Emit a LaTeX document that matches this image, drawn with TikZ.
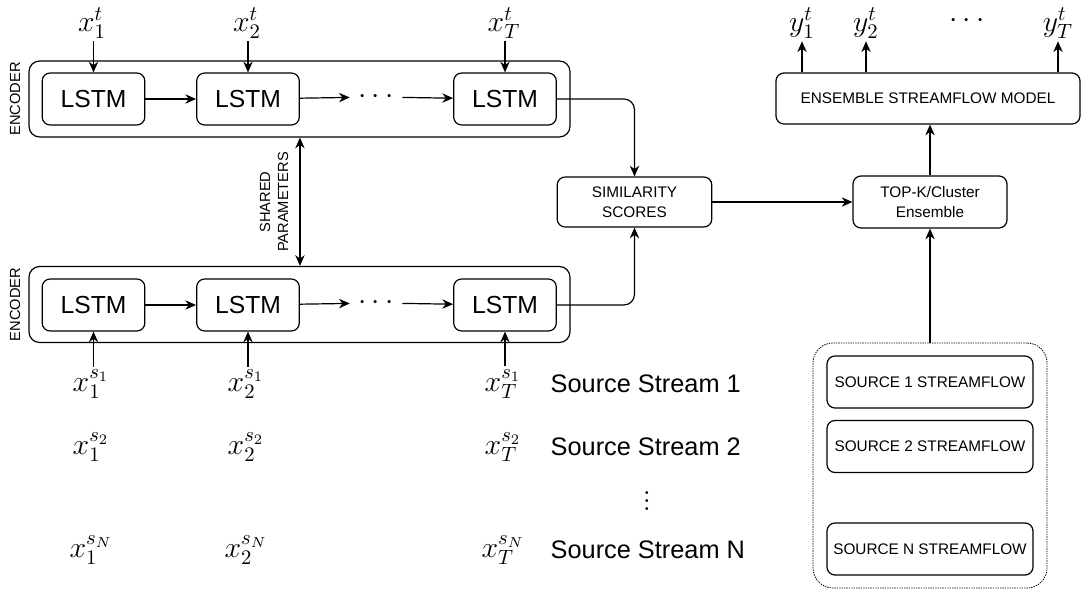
\documentclass[tikz,border=0pt]{standalone}
\usepackage{fontspec}
\newfontfamily\arialfont{Liberation Sans}
\usetikzlibrary{arrows.meta}
\newcommand{\lbl}[1]{\scalebox{1.55}{$#1$}}

\begin{document}
\begin{tikzpicture}[x=0.75pt, y=-0.75pt,
        lstm/.style={draw, line width=0.9pt, rounded corners=6pt, minimum width=77pt, minimum height=39pt, font=\arialfont\fontsize{18.5}{22}\selectfont},
        enc/.style={draw, line width=0.9pt, rounded corners=8pt, minimum width=405.75pt, minimum height=57pt},
        block/.style={draw, line width=0.9pt, rounded corners=6pt, align=center, font=\arialfont\fontsize{11.5}{15}\selectfont},
        side/.style={rotate=90, align=center, font=\arialfont\fontsize{11}{13.5}\selectfont},
        lab/.style={font=\Large, inner sep=2pt},
        arr/.style={line width=0.9pt, -{Stealth[length=8pt,width=7pt,inset=2.5pt]}},
        arrboth/.style={line width=0.9pt, {Stealth[length=8pt,width=7pt,inset=2.5pt]}-{Stealth[length=8pt,width=7pt,inset=2.5pt]}}]
    \useasboundingbox (0,0) rectangle (1083,589);

    % the two encoders
    \node[enc] (enc1) at (299.5,99) {};
    \node[enc] (enc2) at (299.5,304.5) {};
    \node[side] (enctxt1) at (15,99) {ENCODER};
    \node[side] (enctxt2) at (15,304.5) {ENCODER};

    \node[lstm] (u1) at (93.5,99) {LSTM};
    \node[lstm] (u2) at (248,99) {LSTM};
    \node[lab, minimum width=39pt] (ud) at (376,97) {\lbl{\cdots}};
    \node[lstm] (u3) at (505,99) {LSTM};

    \node[lstm] (l1) at (93.5,305) {LSTM};
    \node[lstm] (l2) at (248,305) {LSTM};
    \node[lab, minimum width=39pt] (ld) at (376,303) {\lbl{\cdots}};
    \node[lstm] (l3) at (505,305) {LSTM};

    \draw[arr] (u1) -- (u2);
    \draw[arr] (u2) -- (ud);
    \draw[arr] (ud) -- (u3);
    \draw[arr] (l1) -- (l2);
    \draw[arr] (l2) -- (ld);
    \draw[arr] (ld) -- (l3);

    % target inputs
    \node[lab] (xt1) at (92,23) {\lbl{x_1^t}};
    \node[lab] (xt2) at (247,23) {\lbl{x_2^t}};
    \node[lab] (xtT) at (504,23) {\lbl{x_T^t}};
    \draw[arr] (xt1.south -| u1) -- (u1);
    \draw[arr] (xt2.south -| u2) -- (u2);
    \draw[arr] (xtT.south -| u3) -- (u3);

    % source inputs
    \foreach \s/\y in {1/384, 2/447, N/550} {
        \node[lab] (xa\s) at (91,\y) {\lbl{x_1^{s_\s}}};
        \node[lab] (xb\s) at (246,\y) {\lbl{x_2^{s_\s}}};
        \node[lab] (xc\s) at (503,\y) {\lbl{x_T^{s_\s}}};
        \node[anchor=west, font=\arialfont\fontsize{19}{22}\selectfont] (stream\s) at (546,\y) {Source Stream \s};
    }
    \node[lab] (vd) at (647,495) {\lbl{\vdots}};
    \draw[arr] (xa1.north -| l1) -- (l1);
    \draw[arr] (xb1.north -| l2) -- (l2);
    \draw[arr] (xc1.north -| l3) -- (l3);

    \draw[arrboth] (u2.east |- enc1.south) -- (u2.east |- enc2.north);
    \node[side] (shared) at (274,202) {SHARED\\PARAMETERS};

    % similarity and ensemble
    \node[block, minimum width=116pt, minimum height=37.5pt] (sim) at (634.5,202) {SIMILARITY\\SCORES};
    \node[block, minimum width=115.5pt, minimum height=39pt] (topk) at (930,202) {TOP-K/Cluster\\Ensemble};
    \node[block, minimum width=228pt, minimum height=38.25pt] (ens) at (928,98.5) {ENSEMBLE STREAMFLOW MODEL};

    \draw[arr, rounded corners=8pt] (u3.east) -| (sim.north);
    \draw[arr, rounded corners=8pt] (l3.east) -| (sim.south);
    \draw[arr] (sim) -- (topk);
    \draw[arr] (topk.north) -- (topk.north |- ens.south);

    % outputs
    \node[lab] (y1) at (802,23) {\lbl{y_1^t}};
    \node[lab] (y2) at (866,23) {\lbl{y_2^t}};
    \node[lab] (yd) at (967,21) {\lbl{\cdots}};
    \node[lab] (yT) at (1058,23) {\lbl{y_T^t}};
    \draw[arr] (y1 |- ens.north) -- (y1);
    \draw[arr] (y2 |- ens.north) -- (y2);
    \draw[arr] (yT |- ens.north) -- (yT);

    % source streamflows
    \node[draw, line width=0.6pt, dash pattern=on 1pt off 0.8pt, rounded corners=15pt, minimum width=175.5pt, minimum height=183.75pt] (srcs) at (930,465.5) {};
    \node[block, minimum width=154.5pt, minimum height=39pt] (sf1) at (930,382) {SOURCE 1 STREAMFLOW};
    \node[block, minimum width=154.5pt, minimum height=39pt] (sf2) at (930,446.5) {SOURCE 2 STREAMFLOW};
    \node[block, minimum width=154.5pt, minimum height=39pt] (sfN) at (930,549) {SOURCE N STREAMFLOW};
    \draw[arr] (srcs.north) -- (topk.south);
\end{tikzpicture}
\end{document}
